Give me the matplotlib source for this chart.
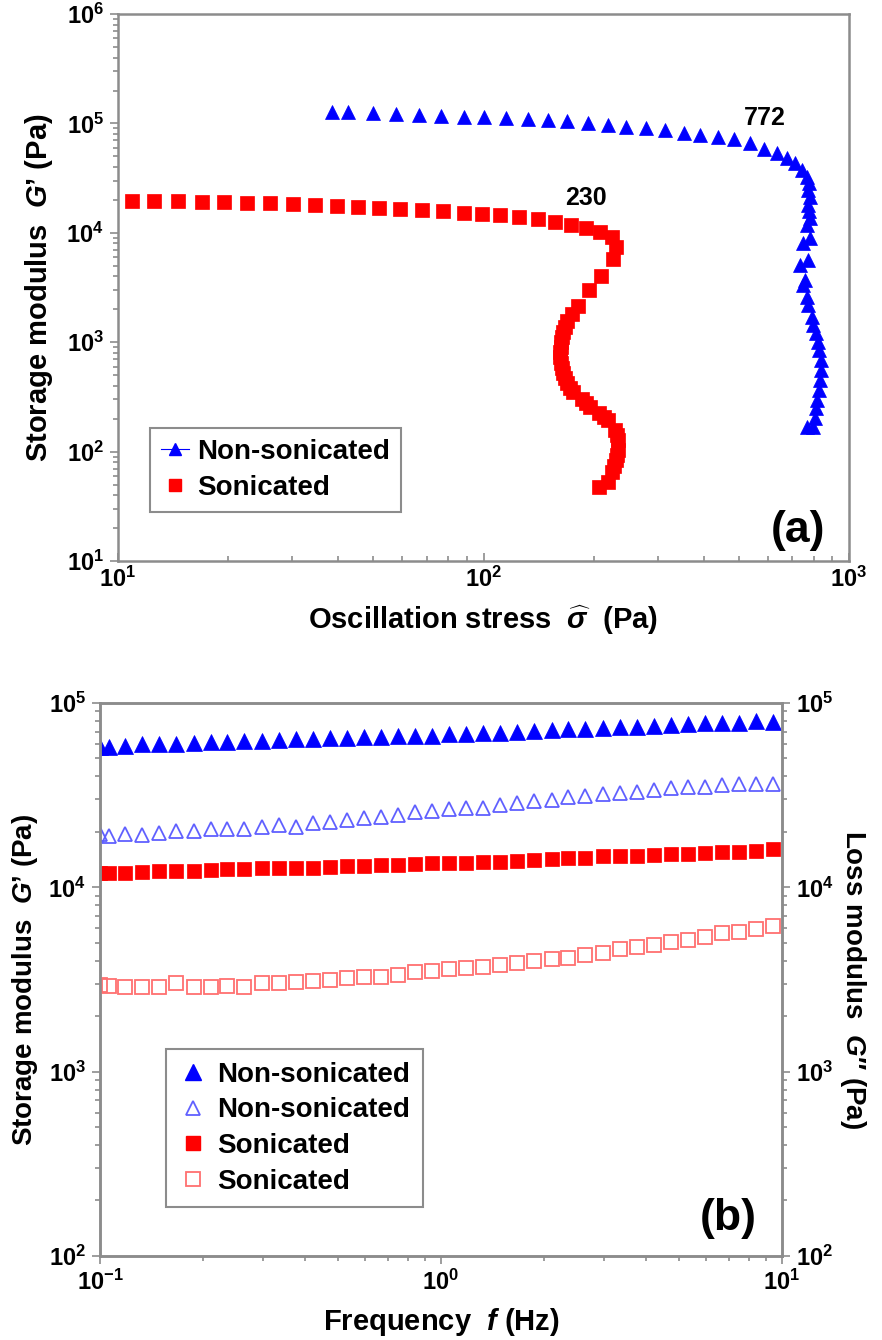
import matplotlib
matplotlib.use("Agg")
import numpy as np
import matplotlib.pyplot as plt
from matplotlib.lines import Line2D
from matplotlib.ticker import LogLocator, NullFormatter, FuncFormatter

# ==========================================
# Data
# ==========================================

# (a) stress sweep, non-sonicated
stress_non = [38.5, 42.6, 49.9, 57.6, 66.6, 76.5, 88.5, 100, 115, 132,
              150, 169, 193, 219, 245, 278, 314, 354, 391, 438,
              485, 536, 585, 635, 677, 712, 743, 767, 777, 772,
              782, 772, 777, 782, 767, 782, 748, 772, 734, 758,
              748, 767, 772, 792, 797, 812, 823, 828, 838, 838,
              833, 828, 818, 812, 807, 797, 767]
gp_non = [1.27e5, 1.27e5, 1.24e5, 1.22e5, 1.19e5, 1.17e5, 1.14e5, 1.14e5, 1.12e5, 1.10e5,
          1.07e5, 1.05e5, 1.01e5, 9.7e4, 9.3e4, 9.1e4, 8.7e4, 8.2e4, 7.8e4, 7.5e4,
          7.2e4, 6.6e4, 5.9e4, 5.36e4, 4.83e4, 4.35e4, 3.75e4, 3.24e4, 2.85e4, 2.46e4,
          2.12e4, 1.80e4, 1.57e4, 1.37e4, 1.18e4, 8.96e3, 8.07e3, 5.64e3, 5.08e3, 3.70e3,
          3.33e3, 2.59e3, 2.19e3, 1.70e3, 1.44e3, 1.21e3, 1.00e3, 849, 688, 557,
          451, 366, 296, 250, 203, 168, 168]

# (a) stress sweep, sonicated
stress_son = [10.9, 12.55, 14.6, 16.97, 19.5, 22.5, 26.05, 30.1, 34.6, 39.7,
              45.4, 51.8, 59.1, 67.9, 77.5, 88.5, 99.1, 111, 125, 141,
              157, 173.5, 190.7, 208, 224.6, 230.4, 226, 209.7, 194.4, 181.4,
              174.6, 169.2, 167, 165, 164, 163, 162.5, 162, 162, 163,
              164, 165, 167, 169, 172.5, 175.8, 186, 190.7, 195.6, 207,
              213.6, 219, 229, 231.8, 233.4, 233.4, 231.8, 230.4, 227.5, 224.6,
              219, 207]
gp_son = [1.95e4, 1.95e4, 1.95e4, 1.91e4, 1.91e4, 1.87e4, 1.87e4, 1.83e4, 1.80e4, 1.76e4,
          1.72e4, 1.69e4, 1.65e4, 1.62e4, 1.58e4, 1.52e4, 1.49e4, 1.45e4, 1.39e4, 1.34e4,
          1.26e4, 1.18e4, 1.11e4, 1.02e4, 9.16e3, 7.42e3, 5.77e3, 4.03e3, 3.0e3, 2.14e3,
          1.81e3, 1.56e3, 1.38e3, 1.24e3, 1.12e3, 1.00e3, 904, 813, 733, 645,
          581, 523, 471, 424, 381, 351, 303, 278, 256, 225,
          207, 194, 157, 142, 128, 103, 93, 83.8, 73.8, 65.2,
          52.7, 47.5]

# (b) frequency sweep
freq = [0.1, 0.106, 0.118, 0.133, 0.149, 0.167, 0.188, 0.211, 0.236, 0.265,
        0.298, 0.334, 0.375, 0.421, 0.472, 0.530, 0.594, 0.667, 0.748, 0.839,
        0.942, 1.056, 1.18, 1.33, 1.49, 1.67, 1.88, 2.11, 2.36, 2.65,
        2.98, 3.34, 3.75, 4.21, 4.72, 5.30, 5.94, 6.67, 7.48, 8.39, 9.42]

gp_non_f = [5.79e4, 5.79e4, 5.84e4, 5.97e4, 5.99e4, 5.99e4, 6.04e4, 6.12e4, 6.17e4, 6.20e4,
            6.22e4, 6.30e4, 6.35e4, 6.35e4, 6.43e4, 6.43e4, 6.51e4, 6.51e4, 6.62e4, 6.62e4,
            6.62e4, 6.76e4, 6.76e4, 6.90e4, 6.90e4, 6.96e4, 7.08e4, 7.14e4, 7.20e4, 7.26e4,
            7.29e4, 7.38e4, 7.44e4, 7.50e4, 7.57e4, 7.69e4, 7.76e4, 7.82e4, 7.82e4, 8.02e4, 7.92e4]
gpp_non_f = [1.95e4, 1.90e4, 1.95e4, 1.92e4, 1.96e4, 2.03e4, 2.03e4, 2.06e4, 2.06e4, 2.07e4,
             2.12e4, 2.18e4, 2.12e4, 2.24e4, 2.27e4, 2.32e4, 2.37e4, 2.40e4, 2.47e4, 2.55e4,
             2.60e4, 2.66e4, 2.68e4, 2.70e4, 2.80e4, 2.86e4, 2.95e4, 2.98e4, 3.08e4, 3.13e4,
             3.20e4, 3.26e4, 3.30e4, 3.37e4, 3.44e4, 3.51e4, 3.51e4, 3.59e4, 3.64e4, 3.64e4, 3.64e4]
gp_son_f = [1.19e4, 1.19e4, 1.20e4, 1.205e4, 1.22e4, 1.22e4, 1.23e4, 1.24e4, 1.25e4, 1.25e4,
            1.27e4, 1.27e4, 1.28e4, 1.28e4, 1.29e4, 1.31e4, 1.31e4, 1.32e4, 1.32e4, 1.34e4,
            1.35e4, 1.36e4, 1.36e4, 1.38e4, 1.38e4, 1.39e4, 1.41e4, 1.42e4, 1.44e4, 1.45e4,
            1.47e4, 1.48e4, 1.48e4, 1.50e4, 1.51e4, 1.52e4, 1.53e4, 1.55e4, 1.56e4, 1.58e4, 1.61e4]
gpp_son_f = [2.95e3, 2.91e3, 2.87e3, 2.89e3, 2.89e3, 3.01e3, 2.87e3, 2.87e3, 2.91e3, 2.87e3,
             3.01e3, 3.01e3, 3.08e3, 3.11e3, 3.14e3, 3.21e3, 3.25e3, 3.28e3, 3.34e3, 3.48e3,
             3.53e3, 3.59e3, 3.63e3, 3.71e3, 3.79e3, 3.87e3, 3.98e3, 4.06e3, 4.12e3, 4.29e3,
             4.42e3, 4.60e3, 4.76e3, 4.86e3, 5.07e3, 5.18e3, 5.40e3, 5.62e3, 5.74e3, 5.91e3, 6.17e3]

labels_a = ["Non-sonicated", "Sonicated"]
labels_b = ["Non-sonicated", "Non-sonicated", "Sonicated", "Sonicated"]

# ==========================================
# Style
# ==========================================

plt.rcParams["font.family"] = ["Liberation Sans", "DejaVu Sans"]
plt.rcParams["font.weight"] = "bold"
plt.rcParams["axes.labelweight"] = "bold"
plt.rcParams["mathtext.fontset"] = "custom"
plt.rcParams["mathtext.rm"] = "Liberation Sans:bold"
plt.rcParams["mathtext.bf"] = "Liberation Sans:bold"
plt.rcParams["mathtext.it"] = "Liberation Sans:italic:bold"

BLUE = "#0000ff"
RED = "#ff0000"
GRAY = "#8c8c8c"


def pow10(v, pos):
    return r"$\mathbf{10^{%d}}$" % int(round(np.log10(v)))


def style_log_axes(ax, xdir="out", ydir="out"):
    ax.set_xscale("log")
    ax.set_yscale("log")
    for sp in ax.spines.values():
        sp.set_color(GRAY)
        sp.set_linewidth(1.8)
    for axis in (ax.xaxis, ax.yaxis):
        axis.set_major_locator(LogLocator(base=10))
        axis.set_minor_locator(LogLocator(base=10, subs=np.arange(2, 10)))
        axis.set_major_formatter(FuncFormatter(pow10))
        axis.set_minor_formatter(NullFormatter())
    ax.tick_params(axis="x", which="both", direction=xdir)
    ax.tick_params(axis="y", which="both", direction=ydir)
    ax.tick_params(which="both", color=GRAY, width=1.2, labelsize=17, pad=4)
    ax.tick_params(which="major", length=6)
    ax.tick_params(which="minor", length=3.5)


fig = plt.figure(figsize=(8.82, 13.4), dpi=100)

# ==========================================
# (a) Storage modulus vs oscillation stress
# ==========================================

ax1 = fig.add_axes([0.1338, 0.5813, 0.8288, 0.4082])
ax1.plot(stress_non, gp_non, ls="none", marker="^", ms=10, color=BLUE, mew=0.5)
ax1.plot(stress_son, gp_son, ls="none", marker="s", ms=9.5, color=RED, mew=0.5)
style_log_axes(ax1, xdir="in", ydir="out")
ax1.set_xlim(10, 1000)
ax1.set_ylim(10, 1e6)
ax1.set_xlabel(r"Oscillation stress  $\widehat{\sigma}$  (Pa)", fontsize=21, labelpad=8)
ax1.set_ylabel("Storage modulus  $G$\u2019 (Pa)", fontsize=21, labelpad=8)

ax1.text(589, 1.12e5, "772", fontsize=18, ha="center", va="center")
ax1.text(190.6, 2.08e4, "230", fontsize=18, ha="center", va="center")
ax1.text(0.93, 0.055, "(a)", transform=ax1.transAxes, fontsize=32,
         ha="center", va="center")

handles_a = [Line2D([], [], color=BLUE, marker="^", ms=9, lw=0.8),
             Line2D([], [], color=RED, marker="s", ms=9, ls="none")]
leg = ax1.legend(handles_a, labels_a, loc="lower left", bbox_to_anchor=(0.044, 0.09),
                 borderaxespad=0, fontsize=20, handlelength=1.0, handletextpad=0.3,
                 labelspacing=0.35, borderpad=0.4, fancybox=False, framealpha=1,
                 edgecolor=GRAY)
leg.get_frame().set_linewidth(1.5)

# ==========================================
# (b) Moduli vs frequency
# ==========================================

ax2 = fig.add_axes([0.1134, 0.0627, 0.7732, 0.4127])
ax3 = ax2.twinx()

ax2.plot(freq, gp_non_f, ls="none", marker="^", ms=11, color=BLUE, mew=0.5)
ax3.plot(freq, gpp_non_f, ls="none", marker="^", ms=10.5, mfc="none", mec="#6060ff", mew=1.3)
ax2.plot(freq, gp_son_f, ls="none", marker="s", ms=10.5, color=RED, mew=0.5)
ax3.plot(freq, gpp_son_f, ls="none", marker="s", ms=10, mfc="none", mec="#ff7070", mew=1.3)

for ax in (ax2, ax3):
    style_log_axes(ax)
    ax.set_xlim(0.1, 10)
    ax.set_ylim(100, 1e5)

ax2.set_xlabel("Frequency  $f$ (Hz)", fontsize=21, labelpad=8)
ax2.set_ylabel("Storage modulus  $G$\u2019 (Pa)", fontsize=20, labelpad=6)
ax3.set_ylabel("Loss modulus  $G$\u2033 (Pa)", fontsize=20, labelpad=3,
               rotation=270, va="bottom")

ax3.text(0.921, 0.067, "(b)", transform=ax3.transAxes, fontsize=32,
         ha="center", va="center")

handles_b = [Line2D([], [], ls="none", marker="^", ms=11, color=BLUE),
             Line2D([], [], ls="none", marker="^", ms=10.5, mfc="none", mec="#6060ff", mew=1.3),
             Line2D([], [], ls="none", marker="s", ms=10.5, color=RED),
             Line2D([], [], ls="none", marker="s", ms=10, mfc="none", mec="#ff7070", mew=1.3)]
leg2 = ax3.legend(handles_b, labels_b, loc="lower left", bbox_to_anchor=(0.097, 0.088),
                  borderaxespad=0, fontsize=20, handlelength=1.0, handletextpad=0.4,
                  labelspacing=0.35, borderpad=0.45, fancybox=False, framealpha=1,
                  edgecolor=GRAY)
leg2.get_frame().set_linewidth(1.5)

fig.savefig("out.png", dpi=100)
